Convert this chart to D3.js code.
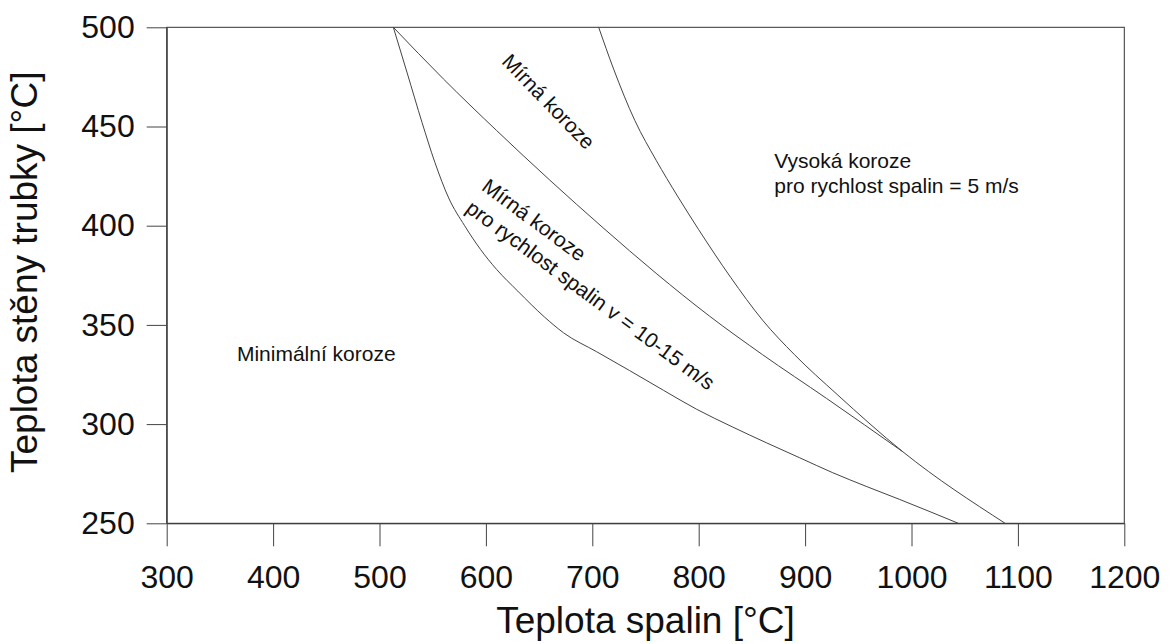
<!DOCTYPE html>
<html>
<head>
<meta charset="utf-8">
<script src="https://cdn.jsdelivr.net/npm/d3@7"></script>
<style>
  body { margin: 0; background: #fff; }
  svg text { font-family: "Liberation Sans", Arial, sans-serif; fill: #111; }
</style>
</head>
<body>
<svg id="chart"></svg>
<script>
// boundary curves [gas temperature, wall temperature]
const lowBoundary = [
  [513, 500], [526, 477], [540, 452], [552, 432], [565, 414], [580, 400],
  [595, 388], [610, 378], [630, 367], [655, 354], [673, 346], [704, 336.5],
  [735, 327], [767, 317], [798, 307.5], [832, 298.5], [864, 290.5], [895, 283],
  [926, 275.5], [958, 268.5], [989, 262], [1044, 250]
];
const midBoundary = [
  [513, 500], [560, 474], [610, 448], [660, 423], [710, 399], [760, 376],
  [810, 354.5], [860, 335], [920, 313], [992, 286]
];
const highBoundary = [
  [706, 500], [720, 479], [740, 453], [760, 433], [780, 415], [800, 398],
  [830, 374], [860, 352.4], [890, 335], [930, 315], [992, 286], [1088, 250]
];

const xTicks = [300, 400, 500, 600, 700, 800, 900, 1000, 1100, 1200];
const yTicks = [250, 300, 350, 400, 450, 500];

const xTitle = 'Teplota spalin [°C]';
const yTitle = 'Teplota stěny trubky [°C]';

const minimalLabel = ['Minimální koroze'];
const highLabel = ['Vysoká koroze', 'pro rychlost spalin = 5 m/s'];
const mildLabel = ['Mírná koroze'];
const mildFastLabel = ['Mírná koroze', 'pro rychlost spalin v = 10-15 m/s'];

const W = 1170, H = 644;
const margin = { top: 27.3, right: 45.7, bottom: 120.7, left: 166.7 };

const svg = d3.select('#chart').attr('width', W).attr('height', H);

const x = d3.scaleLinear().domain([300, 1200]).range([margin.left, W - margin.right]);
const y = d3.scaleLinear().domain([250, 500]).range([H - margin.bottom, margin.top]);

// frame
svg.append('rect')
  .attr('x', x(300)).attr('y', y(500))
  .attr('width', x(1200) - x(300)).attr('height', y(250) - y(500))
  .attr('fill', 'none').attr('stroke', '#333').attr('stroke-width', 1);

// axes
const gx = svg.append('g')
  .attr('transform', `translate(0,${y(250)})`)
  .call(d3.axisBottom(x).tickValues(xTicks).tickFormat(d3.format('d'))
    .tickSize(23).tickSizeOuter(0).tickPadding(19));

const gy = svg.append('g')
  .attr('transform', `translate(${x(300)},0)`)
  .call(d3.axisLeft(y).tickValues(yTicks).tickFormat(d3.format('d'))
    .tickSize(20).tickSizeOuter(0).tickPadding(12));

[gx, gy].forEach(g => {
  g.select('.domain').attr('stroke', '#333');
  g.selectAll('.tick line').attr('stroke', '#444');
  g.selectAll('.tick text')
    .attr('font-family', '"Liberation Sans", Arial, sans-serif')
    .attr('font-size', 32).attr('fill', '#111');
});

// axis titles
svg.append('text')
  .attr('x', (x(300) + x(1200)) / 2).attr('y', 633)
  .attr('text-anchor', 'middle').attr('font-size', 37)
  .text(xTitle);

svg.append('text')
  .attr('transform', `translate(37,${(y(250) + y(500)) / 2 - 3})rotate(-90)`)
  .attr('text-anchor', 'middle').attr('font-size', 37)
  .text(yTitle);

// curves
const line = d3.line().x(d => x(d[0])).y(d => y(d[1])).curve(d3.curveMonotoneX);
[lowBoundary, midBoundary, highBoundary].forEach(c => {
  svg.append('path')
    .datum(c)
    .attr('d', line)
    .attr('fill', 'none')
    .attr('stroke', '#444')
    .attr('stroke-width', 1);
});

// region labels
function label(lines, at, angle, anchor, lead) {
  const t = svg.append('text')
    .attr('transform', `translate(${x(at[0])},${y(at[1])})rotate(${angle})`)
    .attr('text-anchor', anchor)
    .attr('font-size', 21);
  lines.forEach((s, i) => {
    t.append('tspan').attr('x', 0).attr('y', i * lead).text(s);
  });
}

label(minimalLabel, [366, 332], 0, 'start', 25);
label(highLabel, [871, 429], 0, 'start', 25);
label(mildLabel, [654, 460], 46, 'middle', 25);
label(mildFastLabel, [595, 418.4], 36.5, 'start', 27);
</script>
</body>
</html>
